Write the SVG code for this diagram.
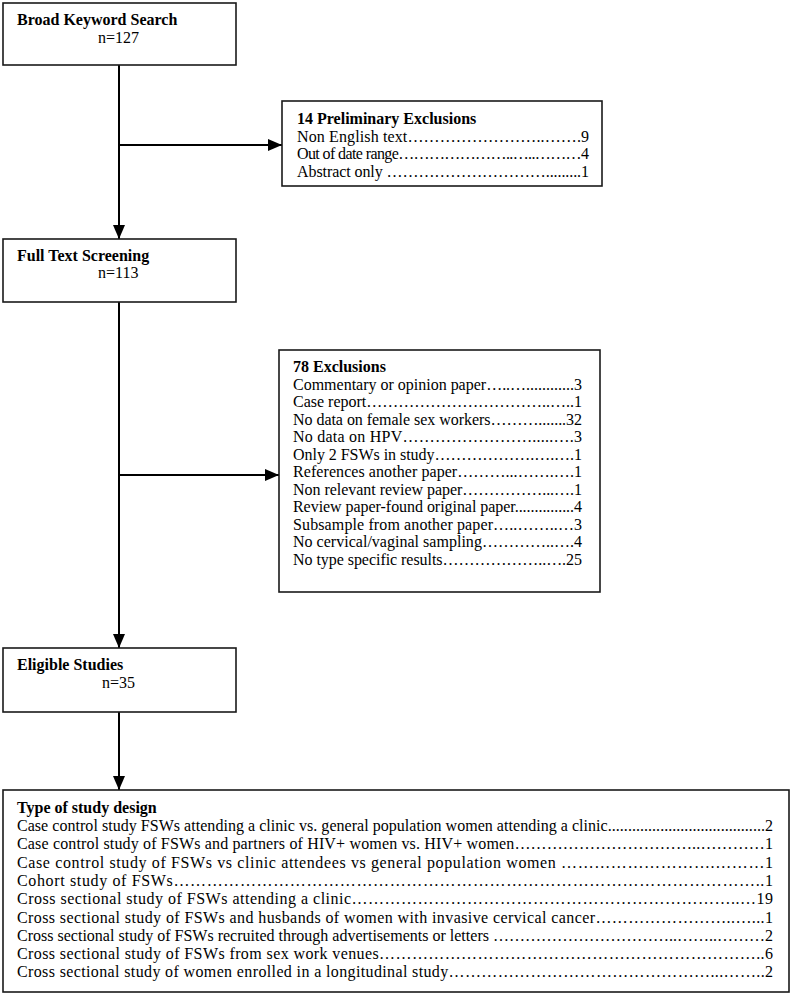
<svg xmlns="http://www.w3.org/2000/svg" width="792" height="996" viewBox="0 0 792 996">
<defs>
<marker id="ah" markerWidth="14" markerHeight="12" refX="14" refY="6" orient="auto" markerUnits="userSpaceOnUse">
<path d="M0,0 L14,6 L0,12 Z" fill="#000"/>
</marker>
</defs>
<style>
.box{fill:#fff;stroke:#1a1a1a;stroke-width:1.6}
text{font-family:"Liberation Serif","Times New Roman",serif;font-size:16px;fill:#000}
.b{font-weight:bold}
.c{stroke:#000;stroke-width:2;fill:none}
</style>
<rect width="792" height="996" fill="#fff"/>
<g id="connectors">
<line class="c" x1="119" y1="65" x2="119" y2="239" marker-end="url(#ah)"/>
<line class="c" x1="119" y1="145" x2="282" y2="145" marker-end="url(#ah)"/>
<line class="c" x1="119" y1="302" x2="119" y2="648" marker-end="url(#ah)"/>
<line class="c" x1="119" y1="475" x2="279" y2="475" marker-end="url(#ah)"/>
<line class="c" x1="119" y1="712" x2="119" y2="790" marker-end="url(#ah)"/>
</g>
<g id="broad">
<rect class="box" x="3" y="3" width="233" height="62"/>
<text class="b" x="17" y="25">Broad Keyword Search</text>
<text x="98" y="43">n=127</text>
</g>
<g id="prelim">
<rect class="box" x="282" y="101" width="320" height="85"/>
<text class="b" x="297" y="124">14 Preliminary Exclusions</text>
<text x="297" y="141.5" textLength="292" lengthAdjust="spacing">Non English text……………………..…….9</text>
<text x="297" y="159" textLength="292" lengthAdjust="spacing">Out of date range…………………..…..………4</text>
<text x="297" y="176.5" textLength="292" lengthAdjust="spacing">Abstract only ………………………….........1</text>
</g>
<g id="fulltext">
<rect class="box" x="3" y="239" width="233" height="63"/>
<text class="b" x="17" y="261">Full Text Screening</text>
<text x="98" y="278">n=113</text>
</g>
<g id="exclusions">
<rect class="box" x="279" y="350" width="321" height="242"/>
<text class="b" x="293" y="372">78 Exclusions</text>
<text x="293" y="389.5" textLength="289" lengthAdjust="spacing">Commentary or opinion paper…..…............3</text>
<text x="293" y="407" textLength="289" lengthAdjust="spacing">Case report……………………………..…..1</text>
<text x="293" y="424.5" textLength="289" lengthAdjust="spacing">No data on female sex workers……….......32</text>
<text x="293" y="442" textLength="289" lengthAdjust="spacing">No data on HPV…………………….....….3</text>
<text x="293" y="459.5" textLength="289" lengthAdjust="spacing">Only 2 FSWs in study……………….….….1</text>
<text x="293" y="477" textLength="289" lengthAdjust="spacing">References another paper………...…….….1</text>
<text x="293" y="494.5" textLength="289" lengthAdjust="spacing">Non relevant review paper……………...….1</text>
<text x="293" y="512" textLength="289" lengthAdjust="spacing">Review paper-found original paper...............4</text>
<text x="293" y="529.5" textLength="289" lengthAdjust="spacing">Subsample from another paper…..……..…3</text>
<text x="293" y="547" textLength="289" lengthAdjust="spacing">No cervical/vaginal sampling…………..….4</text>
<text x="293" y="564.5" textLength="289" lengthAdjust="spacing">No type specific results………………..….25</text>
</g>
<g id="eligible">
<rect class="box" x="3" y="648" width="233" height="64"/>
<text class="b" x="17" y="670">Eligible Studies</text>
<text x="102" y="688">n=35</text>
</g>
<g id="design">
<rect class="box" x="3" y="790" width="786" height="202"/>
<text class="b" x="17" y="813">Type of study design</text>
<text x="17" y="831" textLength="756" lengthAdjust="spacing">Case control study FSWs attending a clinic vs. general population women attending a clinic.......................................2</text>
<text x="17" y="849.3" textLength="756" lengthAdjust="spacing">Case control study of FSWs and partners of HIV+ women vs. HIV+ women……………………………..…………1</text>
<text x="17" y="867.6" textLength="756" lengthAdjust="spacing">Case control study of FSWs vs clinic attendees vs general population women ……………………….………1</text>
<text x="17" y="885.9" textLength="756" lengthAdjust="spacing">Cohort study of FSWs……………………………………………………………………………………………..1</text>
<text x="17" y="904.2" textLength="756" lengthAdjust="spacing">Cross sectional study of FSWs attending a clinic……………………………………………………………..…19</text>
<text x="17" y="922.5" textLength="756" lengthAdjust="spacing">Cross sectional study of FSWs and husbands of women with invasive cervical cancer……………………..…...1</text>
<text x="17" y="940.8" textLength="756" lengthAdjust="spacing">Cross sectional study of FSWs recruited through advertisements or letters ……………………………..……..………2</text>
<text x="17" y="959.1" textLength="756" lengthAdjust="spacing">Cross sectional study of FSWs from sex work venues……………………………………………………………..6</text>
<text x="17" y="977.4" textLength="756" lengthAdjust="spacing">Cross sectional study of women enrolled in a longitudinal study…………………………………………...……..2</text>
</g>
</svg>
